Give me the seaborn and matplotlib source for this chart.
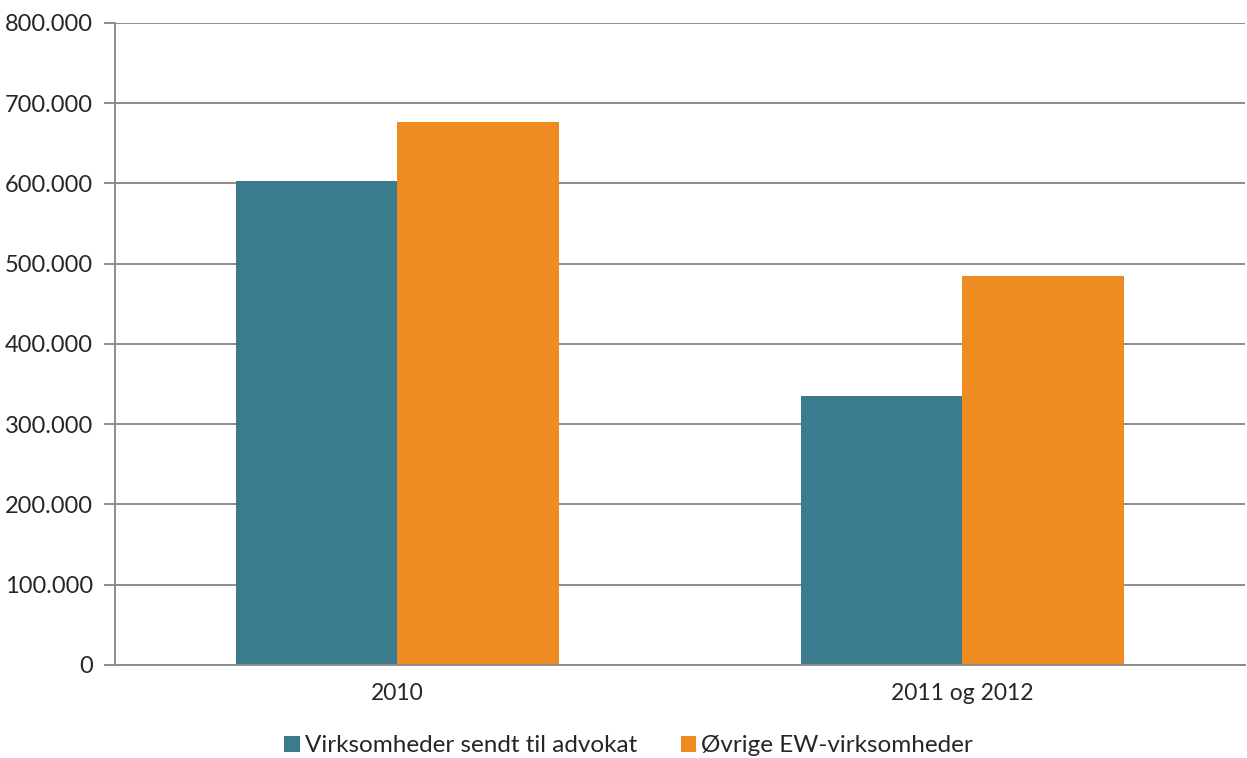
import matplotlib
matplotlib.use("Agg")
import matplotlib.pyplot as plt
import matplotlib.ticker as mticker
import pandas as pd
import seaborn as sns

periods = ["2010", "2011 og 2012"]
series_names = ["Virksomheder sendt til advokat", "Øvrige EW-virksomheder"]
sent_to_lawyer = [603000, 335000]
other_ew = [676000, 485000]
colors = ["#3A7C8E", "#EE8B21"]
y_ticks = [0, 100000, 200000, 300000, 400000, 500000, 600000, 700000, 800000]

df = pd.DataFrame({
    "period": periods * 2,
    "series": [series_names[0]] * 2 + [series_names[1]] * 2,
    "value": sent_to_lawyer + other_ew,
})

sns.set_style("white")
plt.rcParams["font.family"] = ["Lato", "DejaVu Sans"]

fig = plt.figure(figsize=(12.47, 7.58), dpi=100)
ax = fig.add_axes([0.0922, 0.1227, 0.9062, 0.847])

sns.barplot(data=df, x="period", y="value", hue="series", hue_order=series_names,
            palette=colors, width=0.57, gap=0, saturation=1, linewidth=0, ax=ax)

ax.set_xlim(-0.5, 1.5)
ax.set_ylim(0, 800000)
ax.set_yticks(y_ticks)
ax.yaxis.set_major_formatter(mticker.FuncFormatter(lambda v, _: f"{int(v):,}".replace(",", ".")))
ax.yaxis.grid(True, color="#8C8C8C", linewidth=1.4)
ax.set_axisbelow(True)

ax.set_xticks([0, 1])
ax.set_xticklabels(periods)
ax.set_xticks([-0.5, 0.5, 1.5], minor=True)
ax.tick_params(axis="x", which="major", length=0, pad=13, labelsize=16.5)
ax.tick_params(axis="x", which="minor", length=6, width=1.2, color="#8C8C8C", direction="out")
ax.tick_params(axis="y", length=8, width=1.4, color="#8C8C8C", labelsize=17, pad=8, left=True)

for side in ["top", "right"]:
    ax.spines[side].set_visible(False)
for side in ["left", "bottom"]:
    ax.spines[side].set_color("#8C8C8C")
    ax.spines[side].set_linewidth(1.4)

ax.set_xlabel("")
ax.set_ylabel("")

handles, labels = ax.get_legend_handles_labels()
ax.get_legend().remove()
fig.legend(handles, labels, loc="center", bbox_to_anchor=(0.504, 0.016), ncol=2,
           frameon=False, fontsize=17.5, handlelength=0.65, handleheight=0.65,
           handletextpad=0.2, columnspacing=1.8)

fig.savefig("out.png", dpi=100)
